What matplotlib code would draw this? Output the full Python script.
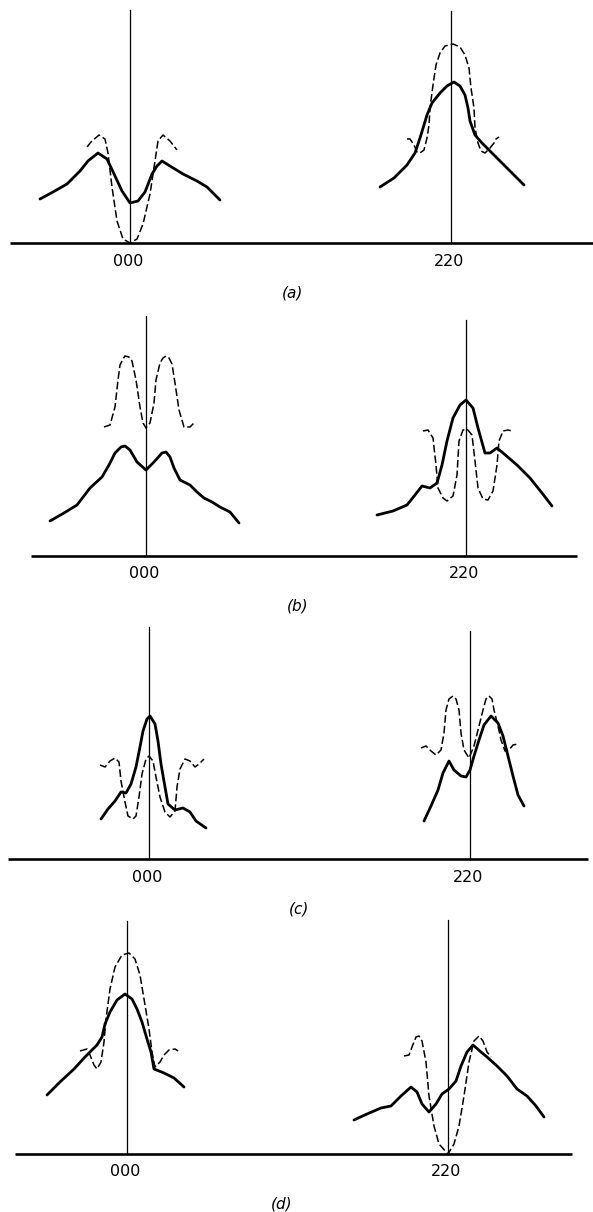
import matplotlib
matplotlib.use("Agg")
import matplotlib.pyplot as plt

plt.rcParams['font.family'] = ['DejaVu Sans']

# reflection names and positions (offset from 000 line, arbitrary units)
refl_names = ['000', '220']
refl_pos = {'a': [0, 321], 'b': [0, 320], 'c': [0, 321], 'd': [0, 321]}
line_top = {'a': [233, 232], 'b': [240, 236], 'c': [232, 228], 'd': [233, 234]}
base_span = {'a': [-120, 463], 'b': [-115, 431], 'c': [-141, 439], 'd': [-112, 445]}

# (a)
a_s0_x = [-90, -77, -63, -50, -42, -32, -23, -15, -8, 0, 8, 15, 22, 27, 32, 40, 53, 67, 77, 90]
a_s0_y = [44, 51, 59, 72, 82, 90, 84, 67, 52, 40, 42, 51, 69, 77, 82, 77, 69, 62, 56, 43]
a_d0_x = [-43, -39, -31, -25, -22, -18, -13, -7, 0, 7, 13, 20, 25, 28, 33, 40, 47]
a_d0_y = [96, 101, 108, 104, 90, 56, 22, 4, 0, 4, 19, 49, 82, 102, 108, 102, 93]
a_s1_x = [-71, -57, -44, -36, -31, -27, -24, -19, -11, -4, 3, 9, 14, 17, 19, 24, 31, 36, 46, 59, 73]
a_s1_y = [56, 65, 78, 90, 105, 118, 128, 140, 150, 157, 161, 157, 148, 135, 122, 108, 100, 95, 85, 72, 58]
a_d1_x = [-44, -41, -37, -34, -31, -27, -24, -22, -21, -18, -15, -11, -6, 2, 9, 14, 18, 20, 23, 24, 27,
          30, 34, 39, 43, 45, 48]
a_d1_y = [104, 104, 98, 91, 90, 93, 105, 118, 135, 158, 178, 190, 197, 199, 196, 188, 175, 155, 135, 115,
          100, 92, 90, 95, 100, 104, 106]

# (b)
b_s0_x = [-96, -82, -69, -56, -44, -37, -31, -25, -21, -16, -9, 0, 8, 16, 20, 24, 28, 34, 44, 51, 58, 66,
          74, 84, 93]
b_s0_y = [35, 43, 51, 68, 79, 91, 103, 109, 110, 106, 94, 86, 94, 103, 104, 99, 88, 76, 71, 64, 58, 54,
          49, 44, 33]
b_d0_x = [-42, -36, -31, -28, -26, -23, -21, -17, -14, -10, -6, -3, 0, 4, 8, 10, 14, 17, 20, 23, 26, 29,
          33, 38, 44, 48]
b_d0_y = [129, 131, 149, 176, 191, 197, 200, 199, 195, 176, 149, 133, 128, 133, 153, 176, 193, 198, 200,
          198, 192, 173, 146, 129, 129, 133]
b_s1_x = [-89, -73, -59, -51, -44, -36, -29, -24, -19, -13, -6, 0, 7, 12, 19, 24, 31, 37, 51, 64, 76, 86]
b_s1_y = [41, 45, 51, 61, 70, 68, 73, 91, 115, 138, 151, 156, 148, 128, 103, 103, 108, 103, 91, 78, 63, 50]
b_d1_x = [-43, -38, -33, -30, -28, -23, -19, -13, -9, -7, -3, 1, 6, 9, 12, 17, 22, 27, 31, 33, 37, 42, 46]
b_d1_y = [125, 126, 118, 91, 68, 58, 55, 60, 81, 115, 126, 127, 121, 95, 68, 57, 56, 65, 91, 115, 125,
          126, 125]

# (c)
c_s0_x = [-48, -41, -34, -28, -23, -18, -13, -9, -6, -2, 1, 6, 9, 12, 16, 19, 26, 34, 41, 47, 57]
c_s0_y = [40, 50, 58, 67, 66, 75, 92, 112, 128, 140, 143, 135, 118, 95, 72, 55, 49, 51, 47, 38, 31]
c_d0_x = [-49, -44, -39, -34, -30, -28, -24, -21, -16, -13, -10, -7, -3, 0, 4, 7, 11, 16, 21, 26, 28, 31,
          36, 41, 46, 50, 55]
c_d0_y = [94, 92, 98, 101, 97, 78, 57, 43, 40, 43, 62, 85, 100, 103, 98, 82, 62, 47, 42, 48, 72, 90, 100,
          98, 92, 95, 100]
c_s1_x = [-46, -39, -32, -27, -21, -16, -9, -4, 0, 4, 9, 14, 21, 28, 33, 38, 43, 48, 54]
c_s1_y = [38, 53, 69, 86, 98, 89, 83, 82, 89, 103, 119, 134, 143, 136, 123, 103, 83, 64, 53]
c_d1_x = [-49, -44, -39, -34, -29, -26, -24, -21, -17, -14, -11, -9, -6, -1, 4, 9, 13, 16, 19, 22, 24, 28,
          31, 35, 39, 43, 48]
c_d1_y = [111, 113, 108, 104, 109, 126, 149, 160, 163, 160, 149, 126, 109, 101, 113, 133, 149, 160, 163,
          160, 149, 133, 119, 108, 109, 114, 115]

# (d)
d_s0_x = [-80, -67, -53, -42, -30, -25, -22, -17, -10, -2, 5, 10, 15, 20, 24, 27, 37, 47, 57]
d_s0_y = [59, 72, 85, 97, 109, 117, 130, 142, 154, 160, 155, 145, 132, 115, 102, 85, 81, 76, 67]
d_d0_x = [-47, -40, -37, -33, -30, -26, -23, -21, -17, -12, -5, 2, 8, 13, 18, 22, 25, 28, 33, 37, 42, 48, 51]
d_d0_y = [103, 105, 99, 89, 85, 92, 112, 135, 165, 187, 199, 201, 195, 179, 149, 125, 102, 87, 92, 99,
          104, 105, 103]
d_s1_x = [-94, -81, -67, -57, -47, -37, -31, -26, -19, -12, -6, 1, 8, 13, 19, 25, 33, 39, 49, 59, 69, 79,
          88, 96]
d_s1_y = [34, 40, 46, 48, 58, 67, 62, 50, 42, 50, 60, 65, 73, 88, 102, 109, 102, 97, 88, 78, 65, 58, 48, 37]
d_d1_x = [-44, -39, -36, -32, -29, -26, -22, -19, -14, -9, 0, 6, 11, 16, 21, 26, 31, 35, 39, 43]
d_d1_y = [98, 99, 107, 117, 118, 113, 92, 58, 28, 10, 0, 10, 28, 58, 92, 113, 118, 113, 102, 97]

panels = {
    'a': [(a_s0_x, a_s0_y, a_d0_x, a_d0_y), (a_s1_x, a_s1_y, a_d1_x, a_d1_y)],
    'b': [(b_s0_x, b_s0_y, b_d0_x, b_d0_y), (b_s1_x, b_s1_y, b_d1_x, b_d1_y)],
    'c': [(c_s0_x, c_s0_y, c_d0_x, c_d0_y), (c_s1_x, c_s1_y, c_d1_x, c_d1_y)],
    'd': [(d_s0_x, d_s0_y, d_d0_x, d_d0_y), (d_s1_x, d_s1_y, d_d1_x, d_d1_y)],
}

# layout in pixels: baseline row, x of the 000 line, x of the panel label
W, H = 593, 1212
base_px = {'a': 243, 'b': 556, 'c': 859, 'd': 1154}
x000_px = {'a': 130, 'b': 146, 'c': 149, 'd': 127}
lab_px = {'a': 293, 'b': 298, 'c': 299, 'd': 282}

fig = plt.figure(figsize=(W / 100, H / 100), dpi=100)

for key in ['a', 'b', 'c', 'd']:
    b = base_px[key]
    ax = fig.add_axes([0, (H - (b + 60)) / H, 1, 305 / H])
    ax.set_xlim(-x000_px[key], W - x000_px[key])
    ax.set_ylim(-60, 245)
    ax.axis('off')

    ax.plot(base_span[key], [0, 0], color='black', lw=1.9, solid_capstyle='butt')
    for i, (sx, sy, dx, dy) in enumerate(panels[key]):
        p = refl_pos[key][i]
        ax.plot([p, p], [0, line_top[key][i]], color='black', lw=0.9)
        ax.plot([p + v for v in sx], sy, color='black', lw=2.0,
                solid_joinstyle='round', solid_capstyle='round')
        ax.plot([p + v for v in dx], dy, color='black', lw=1.1,
                dashes=(5, 2), dash_joinstyle='round')
        ax.text(p - 2, -18, refl_names[i], ha='center', va='center', fontsize=11.5)
    ax.text(lab_px[key] / W, -50, '(' + key + ')', transform=ax.get_yaxis_transform(),
            ha='center', va='center', fontsize=11, style='italic')

fig.savefig('out.png', dpi=100, facecolor='white')
